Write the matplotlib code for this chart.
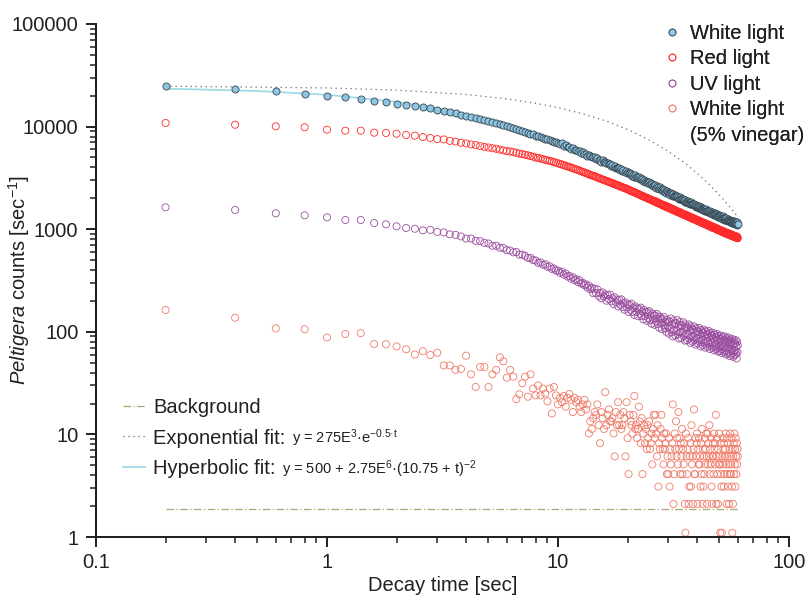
import numpy as np
import matplotlib
matplotlib.use("Agg")
import matplotlib.pyplot as plt
from matplotlib.lines import Line2D
from matplotlib.ticker import FuncFormatter, NullFormatter

plt.rcParams['font.family'] = ['Liberation Sans', 'DejaVu Sans']
plt.rcParams['mathtext.fontset'] = 'custom'
plt.rcParams['mathtext.rm'] = 'Liberation Sans'
plt.rcParams['mathtext.it'] = 'Liberation Sans:italic'
plt.rcParams['mathtext.bf'] = 'Liberation Sans:bold'

# sampling grid: one point every 0.2 s, from 0.2 s to 60 s
sample_step = 0.2
n_samples = 300
decay_time = sample_step * np.arange(1, n_samples + 1)

white_light = [
    24900, 23400, 22100, 20900, 20000, 19550, 18450, 17800, 17500, 16700,
    16400, 16000, 15400, 15100, 14500, 14300, 13800, 13500, 13000, 12800,
    12400, 12200, 11800, 11500, 11300, 11000, 10850, 10500, 10300, 10050,
    9900, 9650, 9480, 9200, 9060, 8900, 8750, 8520, 8400, 8180,
    8100, 7900, 7800, 7600, 7490, 7400, 7300, 7130, 7040, 6880,
    6800, 6885, 6490, 6610, 6290, 6370, 6050, 6240, 5950, 5930,
    5790, 5820, 5525, 5670, 5385, 5460, 5185, 5305, 5115, 5110,
    5020, 5050, 4805, 4930, 4690, 4770, 4535, 4705, 4490, 4495,
    4410, 4435, 4295, 4345, 4150, 4210, 4020, 4170, 3980, 3990,
    3920, 3935, 3770, 3865, 3700, 3765, 3585, 3700, 3560, 3585,
    3510, 3540, 3370, 3485, 3315, 3380, 3225, 3370, 3205, 3220,
    3170, 3195, 3055, 3135, 3010, 3055, 2930, 3040, 2915, 2930,
    2880, 2895, 2790, 2860, 2740, 2790, 2675, 2780, 2665, 2675,
    2630, 2670, 2540, 2635, 2515, 2570, 2450, 2565, 2450, 2465,
    2420, 2460, 2345, 2430, 2325, 2375, 2265, 2370, 2270, 2285,
    2250, 2275, 2175, 2255, 2160, 2200, 2105, 2205, 2110, 2130,
    2100, 2120, 2040, 2100, 2020, 2060, 1970, 2060, 1980, 1990,
    1960, 1990, 1910, 1970, 1890, 1930, 1850, 1935, 1860, 1870,
    1850, 1865, 1800, 1855, 1780, 1815, 1755, 1825, 1750, 1770,
    1750, 1765, 1705, 1755, 1685, 1725, 1655, 1730, 1660, 1675,
    1650, 1685, 1605, 1670, 1605, 1635, 1570, 1650, 1570, 1595,
    1570, 1590, 1525, 1590, 1525, 1555, 1490, 1565, 1500, 1515,
    1500, 1520, 1460, 1515, 1455, 1480, 1430, 1495, 1435, 1455,
    1430, 1460, 1400, 1445, 1395, 1420, 1370, 1430, 1385, 1395,
    1370, 1400, 1340, 1395, 1335, 1370, 1315, 1380, 1325, 1345,
    1320, 1345, 1290, 1335, 1285, 1320, 1265, 1330, 1275, 1295,
    1270, 1295, 1240, 1290, 1240, 1270, 1225, 1275, 1235, 1240,
    1230, 1245, 1200, 1240, 1200, 1230, 1175, 1235, 1195, 1200,
    1190, 1205, 1160, 1210, 1160, 1190, 1145, 1195, 1155, 1170,
    1150, 1175, 1125, 1170, 1130, 1155, 1105, 1165, 1115, 1130,
]

red_light = [
    10840, 10420, 10060, 9840, 9330, 9120, 9120, 8720, 8660, 8530,
    8280, 8150, 7900, 7750, 7550, 7500, 7250, 7150, 6950, 6850,
    6700, 6600, 6450, 6350, 6250, 6150, 6080, 5960, 5870, 5780,
    5720, 5650, 5550, 5450, 5380, 5320, 5250, 5160, 5090, 4990,
    4960, 4880, 4820, 4740, 4680, 4640, 4580, 4510, 4450, 4380,
    4330, 4270, 4210, 4140, 4080, 4050, 3980, 3930, 3870, 3820,
    3770, 3730, 3660, 3620, 3570, 3530, 3480, 3440, 3380, 3340,
    3310, 3280, 3240, 3190, 3150, 3130, 3080, 3050, 3020, 2980,
    2960, 2920, 2890, 2860, 2830, 2800, 2780, 2740, 2720, 2690,
    2670, 2630, 2620, 2580, 2560, 2540, 2520, 2500, 2470, 2450,
    2430, 2400, 2370, 2350, 2320, 2310, 2290, 2270, 2240, 2220,
    2210, 2180, 2170, 2140, 2120, 2110, 2090, 2070, 2050, 2040,
    2020, 2000, 1990, 1970, 1950, 1940, 1930, 1910, 1890, 1880,
    1860, 1880, 1830, 1810, 1800, 1820, 1780, 1760, 1750, 1760,
    1730, 1700, 1720, 1690, 1670, 1700, 1660, 1630, 1660, 1620,
    1640, 1600, 1590, 1610, 1560, 1580, 1540, 1560, 1520, 1540,
    1520, 1490, 1510, 1480, 1490, 1460, 1470, 1450, 1460, 1420,
    1440, 1410, 1420, 1390, 1400, 1380, 1390, 1360, 1380, 1340,
    1360, 1330, 1350, 1320, 1330, 1300, 1320, 1290, 1300, 1270,
    1290, 1260, 1280, 1250, 1260, 1240, 1250, 1220, 1240, 1210,
    1220, 1200, 1220, 1190, 1200, 1180, 1190, 1160, 1180, 1150,
    1170, 1140, 1160, 1130, 1150, 1120, 1140, 1110, 1130, 1100,
    1110, 1090, 1110, 1080, 1100, 1070, 1090, 1060, 1080, 1050,
    1070, 1040, 1060, 1030, 1050, 1030, 1040, 1020, 1040, 1010,
    1020, 1000, 1020, 990, 1010, 980, 1000, 980, 990, 970,
    980, 960, 980, 950, 970, 950, 960, 940, 950, 930,
    950, 920, 940, 920, 930, 910, 930, 900, 920, 900,
    920, 890, 910, 890, 900, 880, 900, 870, 890, 870,
    890, 860, 880, 860, 870, 850, 870, 845, 865, 840,
    860, 840, 855, 830, 850, 825, 845, 820, 840, 815,
]

uv_light = [
    1634, 1538, 1428, 1365, 1305, 1229, 1229, 1148, 1115, 1066,
    1027, 1010, 975, 985, 940, 930, 890, 880, 850, 810,
    810, 770, 765, 735, 725, 690, 690, 660, 655, 625,
    620, 595, 600, 565, 565, 550, 525, 525, 500, 495,
    470, 475, 450, 455, 430, 435, 410, 415, 395, 395,
    375, 385, 360, 370, 345, 350, 330, 340, 318, 325,
    305, 318, 295, 300, 285, 290, 270, 282, 260, 268,
    238, 263, 239, 259, 224, 238, 212, 242, 221, 231,
    201, 229, 208, 231, 198, 213, 186, 217, 195, 206,
    177, 205, 184, 207, 175, 190, 164, 193, 173, 184,
    156, 183, 164, 188, 156, 171, 146, 177, 157, 169,
    142, 168, 150, 172, 142, 157, 132, 163, 143, 155,
    128, 155, 136, 159, 129, 144, 120, 151, 132, 144,
    117, 144, 126, 149, 119, 134, 110, 140, 122, 133,
    106, 133, 117, 139, 109, 124, 100, 131, 113, 124,
    96, 126, 107, 135, 99, 118, 90, 129, 103, 121,
    92, 121, 102, 130, 95, 113, 86, 124, 99, 116,
    87, 115, 98, 124, 91, 108, 82, 118, 95, 111,
    83, 110, 93, 118, 86, 103, 78, 113, 90, 106,
    80, 105, 89, 113, 83, 99, 75, 108, 86, 101,
    77, 101, 86, 109, 80, 95, 72, 104, 83, 98,
    74, 98, 83, 105, 77, 92, 70, 101, 80, 94,
    72, 95, 81, 102, 75, 89, 68, 98, 78, 92,
    70, 92, 78, 98, 72, 86, 66, 94, 75, 89,
    68, 89, 76, 95, 70, 83, 64, 91, 73, 86,
    65, 86, 73, 92, 68, 81, 62, 89, 71, 83,
    64, 84, 71, 90, 66, 79, 60, 86, 69, 81,
    62, 82, 69, 88, 64, 77, 58, 84, 67, 79,
    60, 80, 67, 85, 62, 75, 57, 82, 65, 77,
    59, 77, 66, 83, 61, 72, 55, 80, 63, 74,
]

vinegar_white_light = [
    163, 137, 108, 106, 88, 95, 97, 76, 75.5, 72,
    67.5, 60, 64.6, 59.4, 62.5, 47, 47, 42.5, 43.4, 58.5,
    38.5, 29, 45.4, 45.4, 29, 38.5, 42.5, 56.4, 51.5, 35.7,
    42.5, 36.5, 22.1, 24.6, 31.5, 36.5, 23.3, 38.5, 28, 24,
    30, 24, 28, 25, 21, 28, 16, 29, 24, 19.6,
    22.7, 20.6, 23.7, 18.6, 22.7, 24.8, 21.7, 16.5, 22.7, 20.6,
    21.7, 18.6, 16.5, 19.6, 21.7, 17.5, 19.6, 10.2, 13.4, 11.3,
    14.4, 16.5, 15.5, 19.6, 12.3, 8.2, 16.5, 14.4, 11.3, 25.8,
    12.3, 15.5, 17.5, 13.4, 13.4, 14.4, 10.2, 6.1, 16.5, 12.3,
    20.6, 12.3, 15.5, 11.3, 12.3, 16.5, 14.4, 6.1, 20.6, 9.2,
    4.1, 15.5, 13.4, 12.3, 10.2, 15.5, 23.7, 11.3, 12.3, 9.2,
    11.3, 18.6, 13.4, 8.2, 14.4, 4.1, 10.2, 12.3, 8.2, 11.3,
    7.2, 12.3, 9.2, 13.4, 7.2, 8.2, 10.2, 5.1, 11.3, 15.5,
    9.2, 15.5, 10.2, 6.1, 12.3, 3.1, 8.2, 7.2, 11.3, 15.5,
    9.2, 7.2, 5.1, 10.2, 7.2, 8.2, 10.2, 4.1, 6.1, 4.1,
    9.2, 3.1, 7.2, 5.1, 6.1, 8.2, 19.6, 2.1, 4.1, 10.2,
    7.2, 13.4, 6.1, 9.2, 5.1, 16.5, 7.2, 9.2, 4.1, 8.2,
    6.1, 11.3, 4.1, 7.2, 5.1, 8.2, 2.1, 1.1, 10.2, 6.1,
    4.1, 7.2, 9.2, 2.1, 3.1, 6.1, 8.2, 3.1, 12.3, 5.1,
    6.1, 2.1, 7.2, 17.5, 4.1, 4.1, 9.2, 6.1, 8.2, 10.2,
    2.1, 7.2, 5.1, 9.2, 5.1, 6.1, 3.1, 8.2, 4.1, 11.3,
    2.1, 7.2, 3.1, 6.1, 4.1, 9.2, 5.1, 7.2, 10.2, 6.1,
    2.1, 10.2, 5.1, 8.2, 6.1, 12.3, 4.1, 7.2, 5.1, 9.2,
    3.1, 2.1, 6.1, 8.2, 6.1, 4.1, 10.2, 7.2, 8.2, 5.1,
    15.5, 2.1, 6.1, 9.2, 4.1, 2.1, 7.2, 5.1, 10.2, 6.1,
    5.1, 1.1, 8.2, 4.1, 3.1, 1.1, 6.1, 9.2, 5.1, 7.2,
    3.1, 8.2, 4.1, 6.1, 7.2, 10.2, 5.1, 2.1, 9.2, 4.1,
    6.1, 3.1, 8.2, 5.1, 2.1, 7.2, 4.1, 10.2, 6.1, 4.1,
    5.1, 9.2, 3.1, 1.1, 7.2, 2.1, 6.1, 8.2, 4.1, 10.2,
    5.1, 7.2, 3.1, 9.2, 6.1, 4.1, 8.2, 5.1, 7.2, 6.1,
]

# fitted curves and background level
exp_fit_time = [0.2, 1, 2, 4, 6, 8, 10, 13, 16, 20, 25, 30, 35, 40, 45, 50, 55, 60]
exp_fit_counts = [24760, 23800, 22670, 20550, 18630, 16880, 15300, 13200, 11410,
                  9385, 7340, 5740, 4490, 3510, 2750, 2150, 1680, 1320]
hyp_fit_time = [0.2, 0.5, 1, 2, 3, 5, 7, 10, 15, 20, 25, 30, 40, 50, 60]
hyp_fit_counts = [23436, 22229, 20419, 17417, 15046, 11586, 9229, 6887, 4647,
                  3408, 2652, 2156, 1568, 1245, 1049]
background_time = [0.2, 60]
background_counts = [1.87, 1.87]

series_labels = ['White light', 'Red light', 'UV light', 'White light', '(5% vinegar)']
fit_labels = ['Background', 'Exponential fit:', 'Hyperbolic fit:']
fit_formulas = [None,
                r'y = 275E$^{3}$·e$^{\mathrm{-0.5·t}}$',
                r'y = 500 + 2.75E$^{6}$·(10.75 + t)$^{\mathrm{-2}}$']

text_color = '#231f20'
bg_color = '#a9a874'
exp_color = '#6a6a6a'
hyp_color = '#9fdce6'
white_face = '#8ec6e3'
white_edge = '#36454f'
red_color = '#ff2b2b'
uv_color = '#9b4f9f'
vin_color = '#f07a68'

fig = plt.figure(figsize=(8.09, 5.98), dpi=100)
ax = fig.add_axes([0.1187, 0.1020, 0.8566, 0.8579])
ax.set_xscale('log')
ax.set_yscale('log')

ax.plot(background_time, background_counts, color=bg_color, lw=0.9,
        ls=(0, (6, 2, 1, 2)), zorder=1)
ax.plot(exp_fit_time, exp_fit_counts, color=exp_color, lw=0.9,
        ls=(0, (1, 3)), zorder=1)
ax.plot(hyp_fit_time, hyp_fit_counts, color=hyp_color, lw=1.3, zorder=1)

ms = 26
ax.scatter(decay_time, red_light, s=ms, facecolors='none', edgecolors=red_color,
           linewidths=0.6, zorder=2)
ax.scatter(decay_time, white_light, s=ms, c=white_face, edgecolors=white_edge,
           linewidths=0.6, zorder=3)
ax.scatter(decay_time, uv_light, s=ms, facecolors='none', edgecolors=uv_color,
           linewidths=0.6, zorder=2)
ax.scatter(decay_time, vinegar_white_light, s=ms, facecolors='none',
           edgecolors=vin_color, linewidths=0.6, zorder=2)

ax.set_xlim(0.1, 100)
ax.set_ylim(1, 100000)

fmt = FuncFormatter(lambda v, p: f'{v:g}')
ax.xaxis.set_major_formatter(fmt)
ax.yaxis.set_major_formatter(fmt)
ax.xaxis.set_minor_formatter(NullFormatter())
ax.yaxis.set_minor_formatter(NullFormatter())
ax.tick_params(which='major', direction='out', length=7.2, width=1.4,
               labelsize=14.5, color=text_color, labelcolor=text_color)
ax.tick_params(which='minor', direction='out', length=4.3, width=1.1,
               color=text_color)
ax.tick_params(axis='x', which='major', pad=4)
ax.tick_params(axis='y', which='major', pad=5.5)
for side in ['top', 'right']:
    ax.spines[side].set_visible(False)
for side in ['left', 'bottom']:
    ax.spines[side].set_linewidth(1.45)
    ax.spines[side].set_color(text_color)

ax.set_xlabel('Decay time [sec]', fontsize=14.5, color=text_color, labelpad=3)
ax.set_ylabel(r'$\mathit{Peltigera}$ counts [sec$^{-1}$]', fontsize=14.5,
              color=text_color)
ax.yaxis.set_label_coords(-0.092, 0.5)

# legend for the data series (top right)
mk = 5
series_handles = [
    Line2D([], [], ls='none', marker='o', ms=mk, mfc=white_face, mec=white_edge, mew=0.6),
    Line2D([], [], ls='none', marker='o', ms=mk, mfc='none', mec=red_color, mew=0.6),
    Line2D([], [], ls='none', marker='o', ms=mk, mfc='none', mec=uv_color, mew=0.6),
    Line2D([], [], ls='none', marker='o', ms=mk, mfc='none', mec=vin_color, mew=0.6),
    Line2D([], [], ls='none'),
]
leg1 = fig.legend(series_handles, series_labels,
                  loc='upper left', bbox_to_anchor=(0.8183, 0.9599),
                  frameon=False, fontsize=14.5, handlelength=1.0,
                  handletextpad=0.39, labelspacing=0.32, borderpad=0,
                  borderaxespad=0, labelcolor=text_color)

# legend for the lines (bottom left)
fit_handles = [
    Line2D([], [], color=bg_color, lw=0.9, ls=(0, (6, 2, 1, 2))),
    Line2D([], [], color=exp_color, lw=0.9, ls=(0, (1, 3))),
    Line2D([], [], color=hyp_color, lw=1.3),
]
leg2 = ax.legend(fit_handles, fit_labels, loc='upper left',
                 bbox_to_anchor=(0.152, 0.3344), bbox_transform=fig.transFigure,
                 frameon=False, fontsize=14.5, handlelength=1.09,
                 handletextpad=0.4, labelspacing=0.57, borderpad=0,
                 borderaxespad=0, labelcolor=text_color)
ax.add_artist(leg1)

# formulas follow the legend labels in a smaller font
fig.canvas.draw()
renderer = fig.canvas.get_renderer()
label_descent = 0.21 * 14.5 * fig.dpi / 72
for txt, formula in zip(leg2.get_texts(), fit_formulas):
    if formula is None:
        continue
    bb = txt.get_window_extent(renderer)
    fx, fy = fig.transFigure.inverted().transform((bb.x1 + 7, bb.y0 + label_descent))
    fig.text(fx, fy, formula, fontsize=10.5, ha='left', va='baseline',
             color=text_color)

fig.savefig('out.png', dpi=100)
